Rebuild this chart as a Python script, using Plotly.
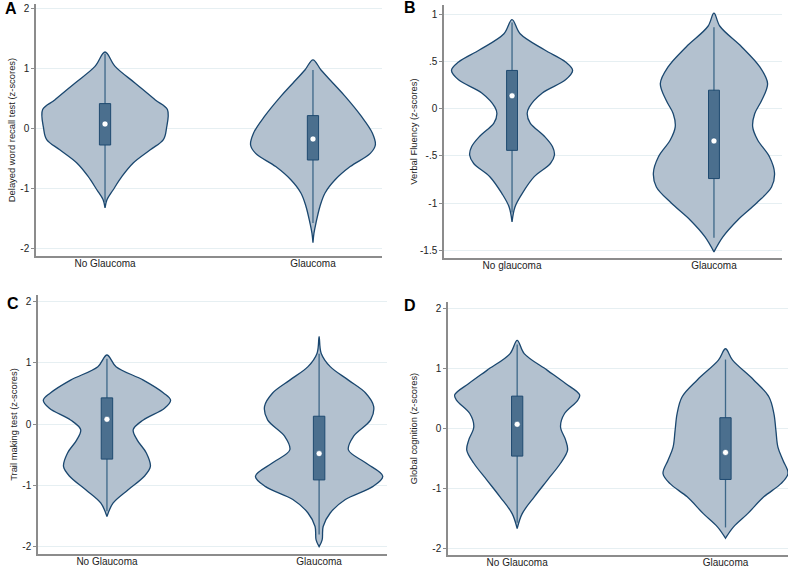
import plotly.graph_objects as go

# ---------------- data ----------------
panel_letters = ["A", "B", "C", "D"]
y_titles = ["Delayed word recall test (z-scores)", "Verbal Fluency (z-scores)",
            "Trail making test (z-scores)", "Global cognition (z-scores)"]
categories_A = ["No Glaucoma", "Glaucoma"]
categories_B = ["No glaucoma", "Glaucoma"]
categories_C = ["No Glaucoma", "Glaucoma"]
categories_D = ["No Glaucoma", "Glaucoma"]

ytick_vals_A = [-2, -1, 0, 1, 2]
ytick_text_A = ["-2", "-1", "0", "1", "2"]
ytick_vals_B = [-1.5, -1, -0.5, 0, 0.5, 1]
ytick_text_B = ["-1.5", "-1", "-.5", "0", ".5", "1"]
ytick_vals_C = [-2, -1, 0, 1, 2]
ytick_text_C = ["-2", "-1", "0", "1", "2"]
ytick_vals_D = [-2, -1, 0, 1, 2]
ytick_text_D = ["-2", "-1", "0", "1", "2"]

# density profiles: z-score levels and relative density (half-width)
A_no_y = [1.28, 1.04, 0.76, 0.48, 0.32, 0.0, -0.18, -0.35, -0.57, -0.79, -1.02, -1.18, -1.32]
A_no_d = [0, 10, 30, 50, 62, 61, 58, 45, 28, 17, 8, 2, 0]
A_gl_y = [1.15, 0.98, 0.76, 0.54, 0.21, -0.07, -0.27, -0.41, -0.63, -0.85, -1.07, -1.29, -1.57, -1.74, -1.90]
A_gl_d = [0, 8, 20, 32, 48, 59, 62, 57, 37, 22, 12, 7, 3, 1, 0]

B_no_y = [0.95, 0.80, 0.63, 0.50, 0.41, 0.31, 0.17, 0.02, -0.05, -0.15, -0.29, -0.40, -0.49, -0.58, -0.72, -0.90, -1.04, -1.20]
B_no_d = [0, 8, 32, 53, 60, 53, 30, 17, 15, 18, 32, 40, 42, 38, 22, 10, 3, 0]
B_gl_y = [1.02, 0.88, 0.66, 0.45, 0.27, 0.09, -0.05, -0.19, -0.33, -0.51, -0.68, -0.83, -1.00, -1.18, -1.36, -1.52]
B_gl_d = [0, 6, 28, 46, 54, 48, 41, 39, 44, 56, 61, 58, 43, 24, 9, 0]

C_no_y = [1.13, 0.94, 0.72, 0.51, 0.39, 0.26, 0.07, -0.09, -0.26, -0.47, -0.69, -0.85, -1.07, -1.29, -1.51]
C_no_d = [0, 9, 36, 56, 63, 57, 36, 26, 30, 39, 43, 37, 21, 6, 0]
C_gl_y = [1.43, 1.16, 0.94, 0.72, 0.51, 0.29, 0.07, -0.20, -0.42, -0.63, -0.85, -1.02, -1.23, -1.45, -1.67, -1.89, -2.00]
C_gl_d = [0, 2, 11, 29, 46, 54, 51, 34, 29, 46, 63, 53, 26, 11, 4, 3, 0]

D_no_y = [1.47, 1.25, 0.97, 0.75, 0.56, 0.47, 0.25, 0.03, -0.19, -0.36, -0.58, -0.86, -1.14, -1.42, -1.67]
D_no_d = [0, 7, 30, 48, 62, 60, 47, 43, 48, 50, 43, 30, 17, 5, 0]
D_gl_y = [1.33, 1.14, 0.81, 0.53, 0.25, -0.03, -0.31, -0.53, -0.75, -0.92, -1.14, -1.42, -1.64, -1.83]
D_gl_d = [0, 7, 28, 43, 48, 50, 52, 57, 62, 55, 38, 22, 8, 0]

# box summaries: [lower whisker, q1, median, q3, upper whisker]
A_no_box = [-1.22, -0.27, 0.08, 0.42, 1.25]
A_gl_box = [-1.57, -0.52, -0.17, 0.22, 0.98]
B_no_box = [-1.10, -0.44, 0.14, 0.41, 0.92]
B_gl_box = [-1.37, -0.74, -0.34, 0.20, 0.87]
C_no_box = [-1.42, -0.57, 0.08, 0.43, 1.07]
C_gl_box = [-1.80, -0.91, -0.48, 0.13, 1.15]
D_no_box = [-1.57, -0.46, 0.07, 0.54, 1.40]
D_gl_box = [-1.65, -0.85, -0.40, 0.18, 1.15]

# ---------------- styling / layout ----------------
FONT = "Liberation Sans, Arial, Helvetica, sans-serif"
VIOLIN_FILL = "#b3c1cf"
VIOLIN_LINE = "#1a476f"
BOX_FILL = "#4b6f8e"
BOX_LINE = "#1f4a70"
GRID = "#e6eff2"
AXIS = "#8c8c8c"
W, H = 800, 574
MAX_HW = 0.30
BOX_HW = 0.027

panels = [
    dict(cats=categories_A, prof=[(A_no_y, A_no_d), (A_gl_y, A_gl_d)], box=[A_no_box, A_gl_box],
         tv=ytick_vals_A, tt=ytick_text_A, px=(36, 382), py=(4, 256), yr=[-2.12, 2.08],
         xr=[-0.332, 1.332], letter=(11, 9), standoff=3),
    dict(cats=categories_B, prof=[(B_no_y, B_no_d), (B_gl_y, B_gl_d)], box=[B_no_box, B_gl_box],
         tv=ytick_vals_B, tt=ytick_text_B, px=(444, 782), py=(5, 258), yr=[-1.585, 1.106],
         xr=[-0.337, 1.337], letter=(410, 8), standoff=1),
    dict(cats=categories_C, prof=[(C_no_y, C_no_d), (C_gl_y, C_gl_d)], box=[C_no_box, C_gl_box],
         tv=ytick_vals_C, tt=ytick_text_C, px=(38, 387), py=(295, 554), yr=[-2.12, 2.11],
         xr=[-0.325, 1.32], letter=(13, 303), standoff=3),
    dict(cats=categories_D, prof=[(D_no_y, D_no_d), (D_gl_y, D_gl_d)], box=[D_no_box, D_gl_box],
         tv=ytick_vals_D, tt=ytick_text_D, px=(448, 788), py=(302, 555), yr=[-2.11, 2.11],
         xr=[-0.332, 1.30], letter=(410, 305), standoff=13),
]

fig = go.Figure()
layout = dict(width=W, height=H, margin=dict(l=0, r=0, t=0, b=0, autoexpand=False),
              paper_bgcolor="white", plot_bgcolor="white", showlegend=False,
              font=dict(family=FONT, size=10, color="#222"))
annotations = []

for i, p in enumerate(panels):
    n = "" if i == 0 else str(i + 1)
    xa, ya = "x" + n, "y" + n
    for j, ((yy, dd), bx) in enumerate(zip(p["prof"], p["box"])):
        m = max(dd)
        hw = [d / m * MAX_HW for d in dd]
        xs = [j + h for h in hw] + [j - h for h in reversed(hw)]
        ys = list(yy) + list(reversed(yy))
        fig.add_trace(go.Scatter(x=xs, y=ys, mode="lines", fill="toself",
                                 fillcolor=VIOLIN_FILL,
                                 line=dict(color=VIOLIN_LINE, width=1.3, shape="spline", smoothing=1.0),
                                 xaxis=xa, yaxis=ya, hoverinfo="skip"))
        fig.add_trace(go.Scatter(x=[j, j], y=[bx[0], bx[4]], mode="lines",
                                 line=dict(color="#3d6788", width=1.3),
                                 xaxis=xa, yaxis=ya, hoverinfo="skip"))
        fig.add_trace(go.Scatter(x=[j - BOX_HW, j + BOX_HW, j + BOX_HW, j - BOX_HW, j - BOX_HW],
                                 y=[bx[1], bx[1], bx[3], bx[3], bx[1]], mode="lines", fill="toself",
                                 fillcolor=BOX_FILL, line=dict(color=BOX_LINE, width=1),
                                 xaxis=xa, yaxis=ya, hoverinfo="skip"))
        fig.add_trace(go.Scatter(x=[j], y=[bx[2]], mode="markers",
                                 marker=dict(color="white", size=6, line=dict(color=BOX_LINE, width=0.5)),
                                 xaxis=xa, yaxis=ya, hoverinfo="skip"))
    x0, x1 = p["px"]
    t0, t1 = p["py"]
    layout["xaxis" + n] = dict(domain=[x0 / W, x1 / W], range=p["xr"], anchor=ya, automargin=False,
                              tickvals=[0, 1], ticktext=p["cats"], ticks="", showgrid=False,
                              zeroline=False, showline=True, linecolor=AXIS, linewidth=1.5,
                              ticklabelstandoff=-3,
                              tickfont=dict(size=10, color="#222"), fixedrange=True)
    layout["yaxis" + n] = dict(domain=[1 - t1 / H, 1 - t0 / H], range=p["yr"], anchor=xa, automargin=False,
                              tickvals=p["tv"], ticktext=p["tt"], ticks="outside", ticklen=3,
                              tickcolor=AXIS, showgrid=True, gridcolor=GRID, gridwidth=1,
                              zeroline=False, showline=True, linecolor=AXIS, linewidth=1.5,
                              tickfont=dict(size=10, color="#222"),
                              title=dict(text=y_titles[i], font=dict(size=9.4, color="#222"),
                                         standoff=p["standoff"]),
                              fixedrange=True)
    lx, ly = p["letter"]
    annotations.append(dict(text="<b>" + panel_letters[i] + "</b>", x=lx / W, y=1 - ly / H,
                            xref="paper", yref="paper", showarrow=False,
                            font=dict(size=16, color="black", family=FONT),
                            xanchor="center", yanchor="middle"))

layout["annotations"] = annotations
fig.update_layout(**layout)
fig.write_html("out.html", config={"displayModeBar": False},
               post_script="document.body.style.margin='0';document.body.style.padding='0';")
